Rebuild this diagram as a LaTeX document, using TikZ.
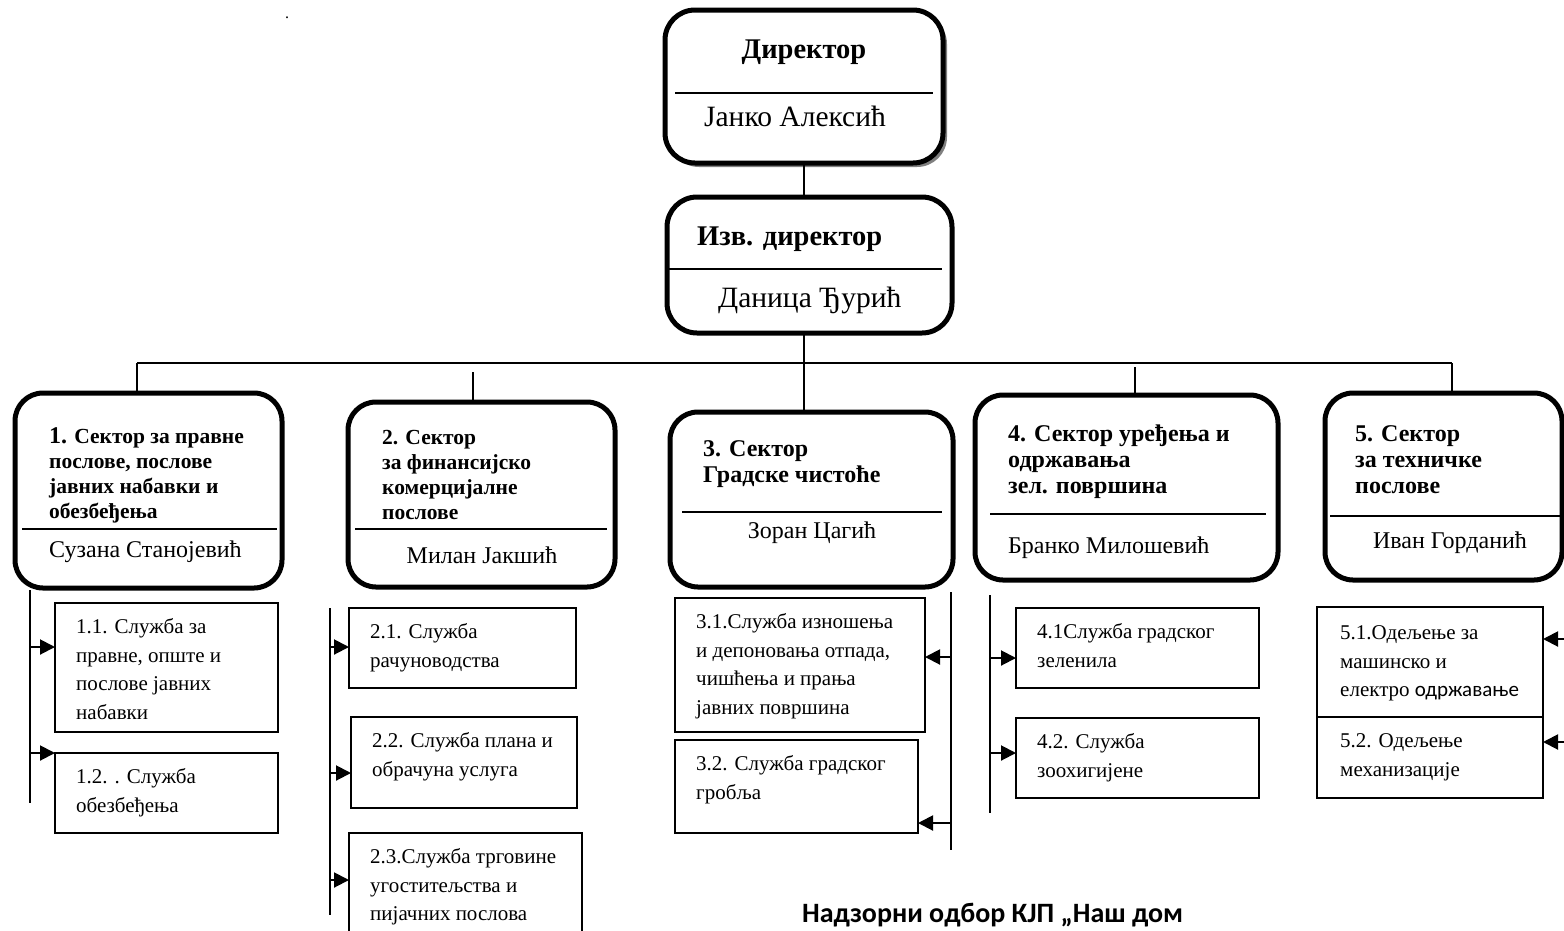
\documentclass[tikz,border=0pt]{standalone}
\usepackage{fontspec}
\setmainfont{Liberation Serif}
\newfontfamily\calibri{Carlito}
\usetikzlibrary{positioning, arrows.meta, shadows}

\begin{document}
\begin{tikzpicture}[
        x=1pt, y=-1pt,
        head/.style={rectangle, draw, line width=5pt, rounded corners=30pt, fill=white, anchor=north west, outer sep=0pt, inner sep=0pt},
        sector/.style={head, rounded corners=28pt},
        headtitle/.style={font=\fontsize{28.5}{30}\selectfont\bfseries, inner sep=0pt},
        headname/.style={font=\fontsize{29.5}{32}\selectfont, inner sep=0pt},
        title/.style={font=\fontsize{21.5}{25}\selectfont\bfseries, align=left, anchor=north west, inner sep=0pt},
        bigtitle/.style={title, font=\fontsize{24}{26}\selectfont\bfseries},
        person/.style={font=\fontsize{24}{27}\selectfont, inner sep=0pt},
        unit/.style={rectangle, draw, line width=2.5pt, anchor=north west, outer sep=0pt, inner sep=0pt},
        unittext/.style={font=\fontsize{21}{28.5}\selectfont, align=left, inner sep=0pt, below right=15.5pt and 21pt of #1},
        link/.style={line width=1.8pt},
        split/.style={line width=2pt},
        feed/.style={line width=2pt, -{Triangle[length=15pt, width=15pt]}}
    ]
    \path[use as bounding box, fill=white] (0,0) rectangle (1564,930);

    % Director
    \node[head, minimum width=278pt, minimum height=153pt, drop shadow={shadow xshift=4pt, shadow yshift=-4pt, fill=black!50, opacity=1}] (dir) at (665,10) {};
    \draw[split] (675,93) -- (933,93);
    \node[headtitle, anchor=base] (dirrole) at (804,58) {Директор};
    \node[headname, anchor=base] (dirname) at (795,126) {Јанко Алексић};

    \node[head, minimum width=285pt, minimum height=136pt] (izv) at (667,197) {};
    \draw[split] (669,269) -- (942,269);
    \node[headtitle, anchor=base west] (izvrole) at (697,245) {Изв. директор};
    \node[headname, anchor=base west] (izvname) at (718,307) {Даница Ђурић};

    \node[inner sep=0pt, anchor=base, font=\fontsize{16}{16}\selectfont] (mark) at (287,18) {.};

    % Sectors
    \node[sector, minimum width=267pt, minimum height=195pt] (s1) at (15,393) {};
    \draw[split] (22,529) -- (277,529);
    \node[title] (s1t) at (49,427) {{\fontsize{24}{25}\selectfont 1.} Сектор за правне\\послове, послове\\јавних набавки и\\обезбеђења};
    \node[person, anchor=base west] (s1n) at (49,557) {Сузана Станојевић};

    \node[sector, minimum width=267pt, minimum height=185pt] (s2) at (348,402) {};
    \draw[split] (355,529) -- (607,529);
    \node[title] (s2t) at (382,430) {2. Сектор\\за финансијско\\комерцијалне\\послове};
    \node[person, anchor=base] (s2n) at (482,563) {Милан Јакшић};

    \node[sector, minimum width=283pt, minimum height=175pt] (s3) at (670,412) {};
    \draw[split] (682,512) -- (942,512);
    \node[bigtitle] (s3t) at (703,440) {3. Сектор\\Градске чистоће};
    \node[person, anchor=base] (s3n) at (812,538) {Зоран Цагић};

    \node[sector, minimum width=303pt, minimum height=185pt] (s4) at (975,395) {};
    \draw[split] (990,514) -- (1266,514);
    \node[bigtitle] (s4t) at (1008,425) {4. Сектор уређења и\\одржавања\\зел. површина};
    \node[person, anchor=base west] (s4n) at (1008,553) {Бранко Милошевић};

    \node[sector, minimum width=237pt, minimum height=187pt] (s5) at (1325,393) {};
    \draw[split] (1330,516) -- (1560,516);
    \node[bigtitle] (s5t) at (1355,425) {5. Сектор\\за техничке\\послове};
    \node[person, anchor=base] (s5n) at (1450,548) {Иван Горданић};

    % Bus
    \coordinate (b1) at (137,363);
    \coordinate (b2) at (473,372);
    \coordinate (b3) at (804,363);
    \coordinate (b4) at (1135,367);
    \coordinate (b5) at (1452,363);
    \draw[link] (b1) -- (b5);
    \draw[link] (b1) -- (s1.north -| b1);
    \draw[link] (b2) -- (s2.north -| b2);
    \draw[link] (dir.south -| b3) -- (izv.north -| b3);
    \draw[link] (izv.south -| b3) -- (s3.north -| b3);
    \draw[link] (b4) -- (s4.north -| b4);
    \draw[link] (b5) -- (s5.north -| b5);

    % Services
    \node[unit, minimum width=223pt, minimum height=129pt] (u11) at (55,603) {};
    \node[unittext=u11.north west] (u11t) {1.1. Служба за\\правне, опште и\\послове јавних\\набавки};
    \node[unit, minimum width=223pt, minimum height=80pt] (u12) at (55,753) {};
    \node[unittext=u12.north west] (u12t) {1.2. . Служба\\обезбеђења};

    \node[unit, minimum width=227pt, minimum height=80pt] (u21) at (349,608) {};
    \node[unittext=u21.north west] (u21t) {2.1. Служба\\рачуноводства};
    \node[unit, minimum width=226pt, minimum height=91pt] (u22) at (351,717) {};
    \node[unittext=u22.north west] (u22t) {2.2. Служба плана и\\обрачуна услуга};
    \node[unit, minimum width=233pt, minimum height=110pt] (u23) at (349,833) {};
    \node[unittext=u23.north west] (u23t) {2.3.Служба трговине\\угоститељства и\\пијачних послова};

    \node[unit, minimum width=250pt, minimum height=134pt] (u31) at (675,598) {};
    \node[unittext=u31.north west] (u31t) {3.1.Служба изношења\\и депоновања отпада,\\чишћења и прања\\јавних површина};
    \node[unit, minimum width=243pt, minimum height=93pt] (u32) at (675,740) {};
    \node[unittext=u32.north west] (u32t) {3.2. Служба градског\\гробља};

    \node[unit, minimum width=243pt, minimum height=80pt] (u41) at (1016,608) {};
    \node[unittext=u41.north west] (u41t) {4.1Служба градског\\зеленила};
    \node[unit, minimum width=243pt, minimum height=80pt] (u42) at (1016,718) {};
    \node[unittext=u42.north west] (u42t) {4.2. Служба\\зоохигијене};

    \node[unit, minimum width=226pt, minimum height=110pt] (u51) at (1317,607) {};
    \node[unittext=u51.north west, below right=18.5pt and 23pt of u51.north west] (u51t) {5.1.Одељење за\\машинско и\\електро {\calibri одржавање}};
    \node[unit, minimum width=226pt, minimum height=81pt] (u52) at (1317,717) {};
    \node[unittext=u52.north west, below right=16.5pt and 23pt of u52.north west] (u52t) {5.2. Одељење\\механизације};

    % Feeds
    \draw[link] (30,590) -- (30,803);
    \coordinate (a11) at (30,647);
    \coordinate (a12) at (30,753);
    \draw[feed] (a11) -- (a11 -| u11.west);
    \draw[feed] (a12) -- (a12 -| u12.west);

    \draw[link] (330,608) -- (330,915);
    \coordinate (a21) at (330,647);
    \coordinate (a22) at (330,773);
    \coordinate (a23) at (330,880);
    \draw[feed] (a21) -- (a21 -| u21.west);
    \draw[feed] (a22) -- (a22 -| u22.west);
    \draw[feed] (a23) -- (a23 -| u23.west);

    \draw[link] (951,592) -- (951,850);
    \coordinate (a31) at (951,657);
    \coordinate (a32) at (951,823);
    \draw[feed] (a31) -- (a31 -| u31.east);
    \draw[feed] (a32) -- (a32 -| u32.east);

    \draw[link] (990,595) -- (990,813);
    \coordinate (a41) at (990,658);
    \coordinate (a42) at (990,753);
    \draw[feed] (a41) -- (a41 -| u41.west);
    \draw[feed] (a42) -- (a42 -| u42.west);

    \coordinate (a51) at (1566,639);
    \coordinate (a52) at (1566,742);
    \draw[feed] (a51) -- (a51 -| u51.east);
    \draw[feed] (a52) -- (a52 -| u52.east);

    % Board
    \node[inner sep=0pt, anchor=base west, font=\calibri\bfseries\fontsize{28}{30}\selectfont] (board) at (802,922) {Надзорни одбор КЈП „Наш дом};
\end{tikzpicture}
\end{document}
